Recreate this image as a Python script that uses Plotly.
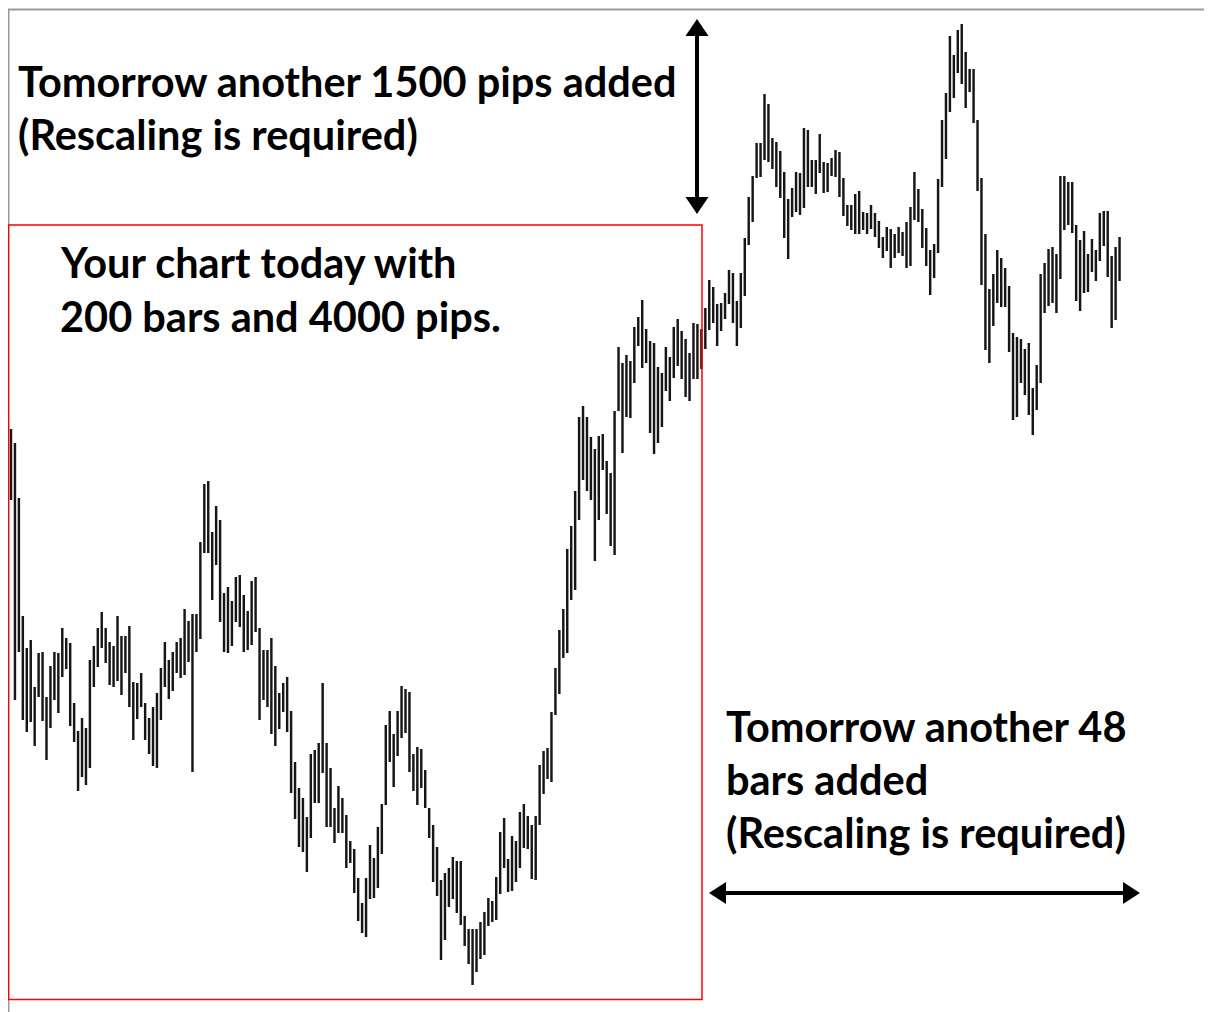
import plotly.graph_objects as go

# The page body has an 8 px margin, so the figure starts at screen (8, 8)
OFF = 8
W, H = 1204, 1004

# High / low of each bar (price levels, arbitrary units; 775 units ~ 4000 pips)
highs = [
    571, 557, 502, 384, 352, 360, 313, 347, 348, 303, 334, 348, 347, 372, 362, 357, 297, 269, 282, 272,
    340, 354, 372, 388, 372, 358, 354, 384, 364, 364, 374, 318, 317, 327, 297, 282, 293, 307, 332, 358,
    340, 348, 358, 362, 391, 379, 386, 386, 458, 516, 519, 468, 494, 480, 407, 413, 399, 423, 425, 405,
    389, 419, 423, 372, 350, 350, 362, 334, 307, 317, 323, 289, 238, 212, 202, 183, 246, 250, 257, 317,
    257, 232, 192, 214, 202, 185, 159, 151, 122, 97, 122, 155, 142, 173, 196, 275, 289, 266, 289, 314,
    311, 308, 246, 253, 251, 230, 192, 175, 153, 120, 127, 132, 143, 139, 139, 84, 71, 71, 71, 78,
    88, 102, 99, 123, 168, 182, 141, 164, 159, 188, 196, 184, 175, 184, 235, 249, 252, 288, 332, 370,
    391, 451, 474, 509, 583, 594, 583, 563, 551, 564, 566, 539, 527, 589, 653, 637, 645, 639, 673, 683,
    700, 671, 659, 657, 633, 627, 653, 643, 673, 681, 669, 661, 647, 677, 676, 671, 692, 720, 713, 696,
    697, 707, 730, 727, 699, 727, 762, 803, 824, 857, 857, 906, 896, 862, 858, 849, 828, 801, 812, 828,
    827, 872, 870, 840, 840, 866, 838, 837, 842, 850, 848, 822, 795, 795, 806, 809, 788, 787, 795, 787,
    779, 763, 773, 771, 766, 773, 768, 778, 793, 828, 811, 791, 772, 750, 756, 821, 880, 907, 964, 945,
    970, 976, 948, 931, 931, 880, 822, 766, 711, 726, 750, 742, 732, 714, 667, 663, 661, 651, 657, 612,
    635, 726, 737, 751, 753, 746, 824, 824, 818, 818, 775, 760, 769, 746, 761, 750, 787, 789, 789, 744,
    753, 763,
]
lows = [
    500, 300, 348, 280, 268, 278, 254, 303, 279, 240, 272, 300, 287, 323, 331, 274, 258, 209, 223, 215,
    232, 313, 333, 352, 337, 315, 313, 319, 305, 327, 293, 260, 281, 293, 260, 246, 234, 232, 280, 313,
    301, 309, 327, 322, 325, 338, 228, 348, 361, 447, 447, 400, 435, 378, 348, 347, 354, 378, 373, 348,
    350, 355, 368, 280, 300, 293, 266, 254, 271, 288, 268, 207, 181, 153, 148, 128, 162, 197, 197, 227,
    173, 173, 157, 167, 167, 132, 137, 107, 79, 67, 63, 101, 102, 112, 146, 195, 238, 213, 244, 262,
    267, 228, 209, 195, 212, 192, 162, 118, 104, 40, 60, 93, 101, 87, 75, 54, 36, 15, 28, 41,
    45, 74, 78, 80, 106, 132, 108, 109, 118, 132, 152, 151, 121, 120, 175, 206, 221, 218, 285, 306,
    342, 347, 400, 410, 480, 520, 509, 500, 439, 480, 530, 486, 454, 445, 589, 547, 583, 582, 617, 654,
    632, 637, 567, 546, 557, 573, 609, 599, 622, 634, 621, 603, 599, 621, 621, 631, 651, 670, 677, 654,
    669, 681, 696, 677, 654, 672, 704, 755, 778, 822, 823, 840, 838, 831, 813, 802, 762, 741, 783, 788,
    785, 792, 813, 813, 806, 827, 807, 808, 824, 823, 803, 784, 774, 770, 766, 766, 770, 766, 771, 763,
    752, 742, 749, 732, 742, 747, 744, 732, 734, 780, 778, 752, 734, 705, 722, 747, 813, 841, 888, 902,
    927, 916, 892, 908, 877, 809, 715, 650, 637, 674, 697, 693, 693, 648, 580, 583, 617, 605, 585, 565,
    590, 617, 687, 694, 697, 687, 721, 770, 775, 767, 699, 689, 707, 708, 728, 719, 739, 754, 723, 672,
    680, 719,
]
bar_index = list(range(1, len(highs) + 1))

texts_top = ["Tomorrow another 1500 pips added", "(Rescaling is required)"]
texts_box = ["Your chart today with", "200 bars and 4000 pips."]
texts_right = ["Tomorrow another 48", "bars added", "(Rescaling is required)"]


def px(x):
    """screen pixel x -> paper coordinate"""
    return (x - OFF) / W


def py(y):
    """screen pixel y -> paper coordinate"""
    return 1 - (y - OFF) / H


# x axis: bar 1 sits at screen pixel 11, spacing ~3.945 px
spacing = 3.945
x0 = 1 - (11 - OFF) / spacing
x1 = x0 + W / spacing
# y axis: level L sits at screen pixel 1000 - L
y_top = 1000 - OFF
y_bot = y_top - H

fig = go.Figure()
fig.add_trace(go.Bar(
    x=bar_index,
    y=[h - l for h, l in zip(highs, lows)],
    base=lows,
    width=0.62,
    marker=dict(color="#161616", line=dict(width=0)),
    hoverinfo="skip",
))

shapes = []
# grey chart frame (top and left)
shapes.append(dict(type="line", xref="paper", yref="paper", x0=px(8), x1=1, y0=py(9.5), y1=py(9.5),
                   line=dict(color="#9a9a9a", width=2)))
shapes.append(dict(type="line", xref="paper", yref="paper", x0=px(8.5), x1=px(8.5), y0=py(9), y1=0,
                   line=dict(color="#9a9a9a", width=2)))
# red rectangle: today's chart
shapes.append(dict(type="rect", xref="paper", yref="paper", x0=px(8.5), x1=px(702), y0=py(999.5), y1=py(225),
                   line=dict(color="#ff0000", width=1.5), fillcolor="rgba(0,0,0,0)"))

# vertical double arrow
ax, top_tip, bot_tip, hl, hw = 697, 19, 214, 17, 11.5
shapes.append(dict(type="line", xref="paper", yref="paper", x0=px(ax), x1=px(ax),
                   y0=py(top_tip + hl - 1), y1=py(bot_tip - hl + 1), line=dict(color="black", width=4)))
for tip, base in [(top_tip, top_tip + hl), (bot_tip, bot_tip - hl)]:
    shapes.append(dict(type="path", xref="paper", yref="paper",
                       path=f"M{px(ax)},{py(tip)} L{px(ax - hw)},{py(base)} L{px(ax + hw)},{py(base)} Z",
                       fillcolor="black", line=dict(width=0)))

# horizontal double arrow
ay, l_tip, r_tip, hl2, hw2 = 893, 709, 1140, 17, 11
shapes.append(dict(type="line", xref="paper", yref="paper", x0=px(l_tip + hl2 - 1), x1=px(r_tip - hl2 + 1),
                   y0=py(ay), y1=py(ay), line=dict(color="black", width=4)))
for tip, base in [(l_tip, l_tip + hl2), (r_tip, r_tip - hl2)]:
    shapes.append(dict(type="path", xref="paper", yref="paper",
                       path=f"M{px(tip)},{py(ay)} L{px(base)},{py(ay - hw2)} L{px(base)},{py(ay + hw2)} Z",
                       fillcolor="black", line=dict(width=0)))

font = dict(family="Lato, Open Sans, sans-serif", size=41.5, color="black", weight="bold")
annotations = []
for txt, (x, y) in zip(texts_top, [(16, 81), (16, 134)]):
    annotations.append(dict(text=txt, x=px(x), y=py(y), xref="paper", yref="paper",
                            xanchor="left", yanchor="middle", showarrow=False, font=font))
for txt, (x, y) in zip(texts_box, [(58, 262), (58, 316)]):
    annotations.append(dict(text=txt, x=px(x), y=py(y), xref="paper", yref="paper",
                            xanchor="left", yanchor="middle", showarrow=False, font=font))
for txt, (x, y) in zip(texts_right, [(724, 726), (724, 779), (724, 832)]):
    annotations.append(dict(text=txt, x=px(x), y=py(y), xref="paper", yref="paper",
                            xanchor="left", yanchor="middle", showarrow=False, font=font))

fig.update_layout(
    width=W, height=H,
    margin=dict(l=0, r=0, t=0, b=0),
    paper_bgcolor="white", plot_bgcolor="white",
    showlegend=False,
    xaxis=dict(range=[x0, x1], visible=False, fixedrange=True),
    yaxis=dict(range=[y_bot, y_top], visible=False, fixedrange=True),
    shapes=shapes,
    annotations=annotations,
)

fig.write_html("out.html", config={"displayModeBar": False})
